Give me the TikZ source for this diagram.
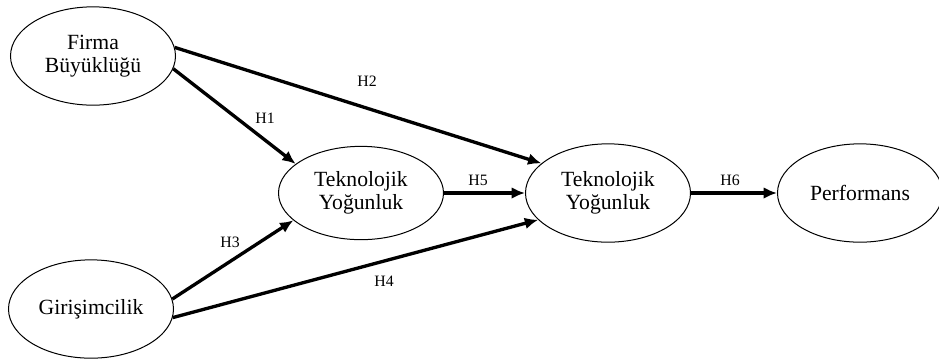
\documentclass[tikz,border=0pt]{standalone}
\usepackage{fontspec}
\setmainfont{Liberation Serif}
\usetikzlibrary{shapes.geometric,arrows.meta}

\tikzset{
  construct/.style={shape=ellipse, draw=black, line width=0.6pt, inner sep=0pt,
    minimum width=99pt, minimum height=59pt, align=center,
    font=\fontsize{13}{14}\selectfont},
  hlabel/.style={font=\fontsize{9.5}{11}\selectfont},
  path/.style={line width=2pt, -{Latex[length=8pt,width=7pt]}}
}

\begin{document}
\begin{tikzpicture}[x=0.6pt, y=-0.6pt]
    \useasboundingbox (0,0) rectangle (939,360);

    \node[construct] (firma) at (93, 56) {Firma\\Büyüklüğü};
    \node[construct] (girisim) at (91, 309) {Girişimcilik};
    \node[construct, minimum height=56pt] (tek1) at (361, 193) {Teknolojik\\Yoğunluk};
    \node[construct] (tek2) at (608, 193) {Teknolojik\\Yoğunluk};
    \node[construct] (perf) at (860, 193) {Performans};

    \draw [path] (firma.-9) -- (tek1.156);
    \draw [path] (firma.6) -- (tek2.156);
    \draw [path] (girisim.7) -- (tek1.202);
    \draw [path] (girisim.-6) -- (tek2.201);
    \draw [path] (tek1.east) -- (tek2.west);
    \draw [path] (tek2.east) -- (perf.west);

    \node[hlabel] (h1) at (265, 118) {H1};
    \node[hlabel] (h2) at (367, 81) {H2};
    \node[hlabel] (h3) at (230, 242) {H3};
    \node[hlabel] (h4) at (384, 281) {H4};
    \node[hlabel] (h5) at (478, 180) {H5};
    \node[hlabel] (h6) at (730, 180) {H6};
  \end{tikzpicture}
\end{document}
